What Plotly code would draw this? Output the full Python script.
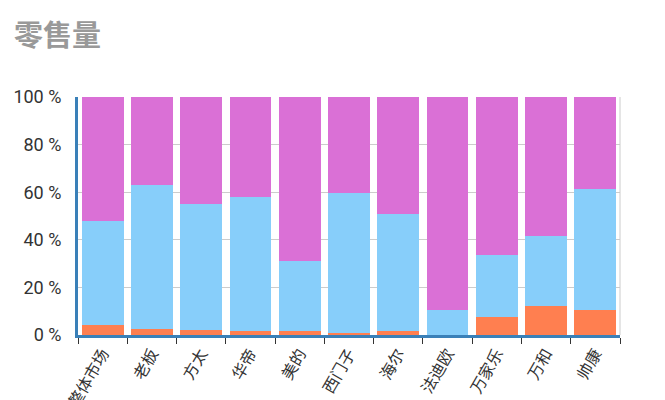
import plotly.graph_objects as go

categories = ["整体市场", "老板", "方太", "华帝", "美的", "西门子", "海尔", "法迪欧", "万家乐", "万和", "帅康"]
low_share = [4.2, 2.5, 2.3, 1.5, 1.8, 0.7, 1.5, 0.2, 7.6, 12.2, 10.5]
mid_share = [43.8, 60.5, 52.7, 56.5, 29.2, 58.8, 49.5, 10.3, 25.9, 29.3, 51.0]
high_share = [52.0, 37.0, 45.0, 42.0, 69.0, 40.5, 49.0, 89.5, 66.5, 58.5, 38.5]
y_ticks = [0, 20, 40, 60, 80, 100]
y_labels = ["0 %", "20 %", "40 %", "60 %", "80 %", "100 %"]

font = "Noto Sans CJK SC, Roboto, sans-serif"
fig = go.Figure()
fig.add_bar(x=categories, y=low_share, name="低端", marker_color="#ff7f50", marker_line_width=0)
fig.add_bar(x=categories, y=mid_share, name="中端", marker_color="#87cefa", marker_line_width=0)
fig.add_bar(x=categories, y=high_share, name="高端", marker_color="#da70d6", marker_line_width=0)

fig.update_layout(
    barmode="stack",
    bargap=0.15,
    width=657, height=392,
    margin=dict(l=70, r=45, t=89, b=65),
    paper_bgcolor="white", plot_bgcolor="white",
    showlegend=False,
    font=dict(family=font),
)
fig.add_annotation(text="零售量", xref="paper", yref="paper", x=-66/542, y=1 + 64/238,
                   xanchor="left", yanchor="middle", showarrow=False,
                   font=dict(size=29, color="#999999", family=font, weight=700))
fig.update_xaxes(
    automargin=False,
    showline=True, linecolor="#3a80b8", linewidth=3,
    ticks="outside", tickson="boundaries", ticklen=6, tickcolor="#333333", tickwidth=1,
    tickangle=-60, tickfont=dict(size=16, color="#333333"),
    showgrid=False,
)
fig.update_yaxes(
    automargin=False,
    range=[0, 100], tickvals=y_ticks, ticktext=y_labels,
    showline=True, linecolor="#3a80b8", linewidth=3,
    showgrid=True, gridcolor="#cccccc", gridwidth=1,
    tickfont=dict(size=18, color="#333333", family="Roboto, sans-serif"), ticks="", ticklabelstandoff=10,
    zeroline=False,
)
fig.add_shape(type="line", xref="paper", yref="paper", x0=1, x1=1, y0=0, y1=1,
              line=dict(color="#cccccc", width=1), layer="below")
fig.write_html("out.html")
